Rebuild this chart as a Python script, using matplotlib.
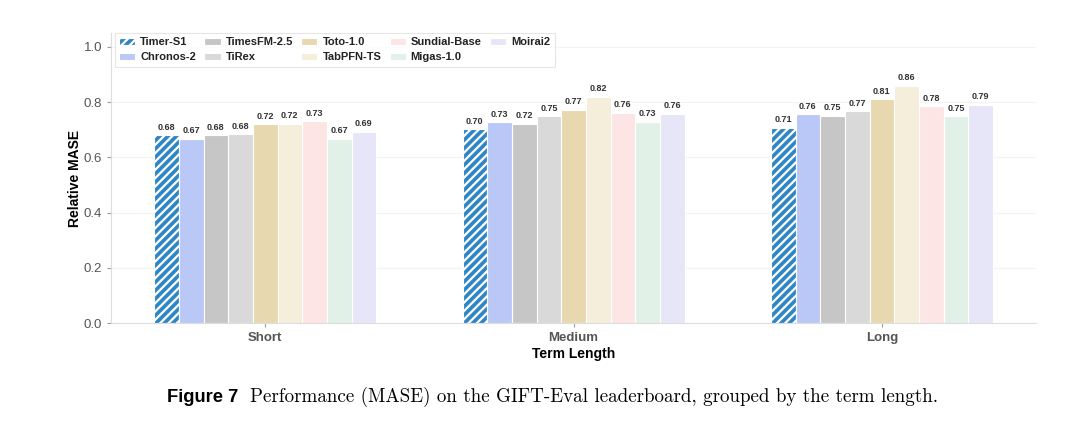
import numpy as np
import matplotlib
matplotlib.use('Agg')
from matplotlib import pyplot as plt

# values
terms = ['Short', 'Medium', 'Long']
models = ['Timer-S1', 'Chronos-2', 'TimesFM-2.5', 'TiRex', 'Toto-1.0',
          'TabPFN-TS', 'Sundial-Base', 'Migas-1.0', 'Moirai2']
timer_s1 = [0.680, 0.702, 0.707]
chronos_2 = [0.667, 0.727, 0.756]
timesfm_25 = [0.681, 0.722, 0.751]
tirex = [0.684, 0.749, 0.768]
toto_10 = [0.720, 0.772, 0.810]
tabpfn_ts = [0.722, 0.820, 0.859]
sundial_base = [0.732, 0.762, 0.784]
migas_10 = [0.667, 0.729, 0.748]
moirai2 = [0.693, 0.758, 0.790]
colors = ['#2f86c6', '#b9c8f7', '#c6c6c6', '#d9d9d9', '#e8d8b0',
          '#f5eedb', '#fde5e5', '#e2f1e7', '#e6e6f8']

series = [timer_s1, chronos_2, timesfm_25, tirex, toto_10,
          tabpfn_ts, sundial_base, migas_10, moirai2]

plt.rcParams['font.family'] = ['Liberation Sans', 'DejaVu Sans']
plt.rcParams['hatch.linewidth'] = 1.6

fig = plt.figure(figsize=(10.8, 4.3), dpi=100)
ax = fig.add_axes([0.1028, 0.2488, 0.8565, 0.6745])

x = np.arange(len(terms))
width = 0.08
for i, (name, vals) in enumerate(zip(models, series)):
    pos = x + (i - 4) * width
    if i == 0:
        bars = ax.bar(pos, vals, width, color=colors[i], edgecolor='white',
                      hatch='////', linewidth=0.8, label=name)
    else:
        bars = ax.bar(pos, vals, width, color=colors[i], edgecolor='white',
                      linewidth=0.8, label=name)
    for b, v in zip(bars, vals):
        ax.text(b.get_x() + b.get_width() / 2, v + 0.012, '%.2f' % v,
                ha='center', va='bottom', fontsize=6.5, fontweight='bold',
                color='#333333')

ax.set_xlim(-0.5, 2.5)
ax.set_ylim(0, 1.05)
ax.set_yticks([0.0, 0.2, 0.4, 0.6, 0.8, 1.0])
ax.set_xticks(x)
ax.set_xticklabels(terms, fontweight='bold')
ax.tick_params(axis='both', colors='#9a9a9a', labelcolor='#555555',
               labelsize=9.5, length=3)
ax.yaxis.grid(True, color='#f3f3f3', linewidth=0.8)
ax.set_axisbelow(True)
for s in ['top', 'right']:
    ax.spines[s].set_visible(False)
for s in ['left', 'bottom']:
    ax.spines[s].set_color('#dddddd')
ax.set_ylabel('Relative MASE', fontsize=10, fontweight='bold', labelpad=1)
ax.set_xlabel('Term Length', fontsize=10, fontweight='bold', labelpad=2)

leg = ax.legend(ncol=5, loc='upper left', bbox_to_anchor=(0.004, 1.0),
                prop={'weight': 'bold', 'size': 8},
                frameon=True, fancybox=False, borderaxespad=0,
                columnspacing=0.75, handlelength=1.45, handletextpad=0.45,
                labelspacing=0.45)
leg.get_frame().set_edgecolor('#e0e0e0')
leg.get_frame().set_linewidth(0.8)
for t in leg.get_texts():
    t.set_color('#222222')

fig.text(0.1545, 0.066, 'Figure 7', fontsize=13.2, fontweight='bold',
         ha='left', va='baseline')
fig.text(0.2315, 0.066,
         'Performance (MASE) on the GIFT-Eval leaderboard, grouped by the term length.',
         fontsize=13.7, family='cmr10', ha='left', va='baseline')

plt.savefig('out.png', dpi=100)
